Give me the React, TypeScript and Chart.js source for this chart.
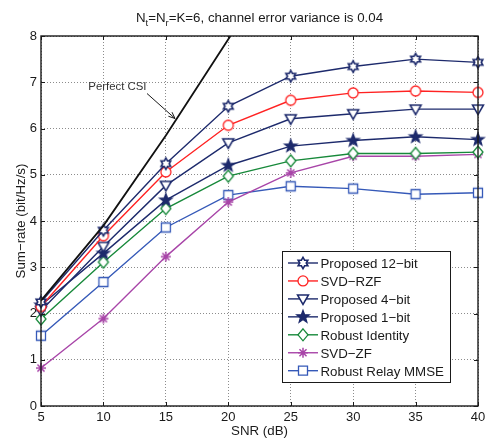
import React, { useEffect, useRef } from 'react';
import { Chart, registerables } from 'chart.js';

Chart.register(...registerables);

const snr = [5, 10, 15, 20, 25, 30, 35, 40];
const perfectSnr = [5, 10, 15, 20, 25];
const perfectCsi = [2.28, 3.9, 5.85, 7.93, 9.98];
const proposed12 = [2.25, 3.8, 5.24, 6.48, 7.13, 7.34, 7.5, 7.43];
const svdRzf = [2.15, 3.68, 5.06, 6.07, 6.61, 6.77, 6.81, 6.78];
const proposed4 = [2.06, 3.45, 4.77, 5.69, 6.21, 6.32, 6.42, 6.42];
const proposed1 = [2.18, 3.3, 4.45, 5.2, 5.62, 5.74, 5.82, 5.76];
const robustIdentity = [1.88, 3.11, 4.27, 4.97, 5.3, 5.46, 5.46, 5.49];
const svdZf = [0.82, 1.89, 3.23, 4.41, 5.04, 5.4, 5.4, 5.44];
const relayMmse = [1.52, 2.68, 3.86, 4.56, 4.75, 4.7, 4.58, 4.61];

const seriesNames = [
  'Proposed 12\u2212bit',
  'SVD\u2212RZF',
  'Proposed 4\u2212bit',
  'Proposed 1\u2212bit',
  'Robust Identity',
  'SVD\u2212ZF',
  'Robust Relay MMSE',
];
const seriesValues = [proposed12, svdRzf, proposed4, proposed1, robustIdentity, svdZf, relayMmse];
const seriesColors = ['#1d2a6c', '#ff2222', '#1d2a6c', '#1d2a6c', '#17893a', '#a845a8', '#3559b8'];
const seriesMarkers = ['hexagram', 'circle', 'triangleDown', 'pentagram', 'diamond', 'asterisk', 'square'];

const titleMain = ['N', '=N', '=K=6, channel error variance is 0.04'];
const titleSubs = ['t', 'r'];
const xLabel = 'SNR (dB)';
const yLabel = 'Sum\u2212rate (bit/Hz/s)';
const annotationText = 'Perfect CSI';

const FONT = "'Liberation Sans', Arial, Helvetica, sans-serif";

function starPath(g: CanvasRenderingContext2D, x: number, y: number, n: number, ro: number, ri: number) {
  g.beginPath();
  for (let i = 0; i < n * 2; i++) {
    const r = i % 2 === 0 ? ro : ri;
    const a = -Math.PI / 2 + (i * Math.PI) / n;
    const px = x + r * Math.cos(a);
    const py = y + r * Math.sin(a);
    if (i === 0) g.moveTo(px, py);
    else g.lineTo(px, py);
  }
  g.closePath();
}

function drawMarker(g: CanvasRenderingContext2D, kind: string, x: number, y: number, color: string) {
  g.save();
  g.lineWidth = 1.3;
  g.strokeStyle = color;
  g.fillStyle = '#ffffff';
  g.setLineDash([]);
  switch (kind) {
    case 'hexagram':
      g.lineWidth = 1.6;
      starPath(g, x, y, 6, 5.6, 5.6 / Math.sqrt(3));
      g.fill();
      g.stroke();
      break;
    case 'circle':
      g.beginPath();
      g.arc(x, y, 5, 0, Math.PI * 2);
      g.fill();
      g.stroke();
      break;
    case 'triangleDown':
      g.lineWidth = 1.5;
      g.beginPath();
      g.moveTo(x - 5.5, y - 4);
      g.lineTo(x + 5.5, y - 4);
      g.lineTo(x, y + 5.5);
      g.closePath();
      g.fill();
      g.stroke();
      break;
    case 'pentagram':
      starPath(g, x, y, 5, 6.5, 2.7);
      g.fillStyle = color;
      g.fill();
      g.stroke();
      break;
    case 'diamond':
      g.beginPath();
      g.moveTo(x, y - 6);
      g.lineTo(x + 5, y);
      g.lineTo(x, y + 6);
      g.lineTo(x - 5, y);
      g.closePath();
      g.fill();
      g.stroke();
      break;
    case 'asterisk': {
      const r = 5;
      const d = r * 0.7071;
      g.lineWidth = 1.5;
      g.beginPath();
      g.moveTo(x - r, y);
      g.lineTo(x + r, y);
      g.moveTo(x, y - r);
      g.lineTo(x, y + r);
      g.moveTo(x - d, y - d);
      g.lineTo(x + d, y + d);
      g.moveTo(x - d, y + d);
      g.lineTo(x + d, y - d);
      g.stroke();
      break;
    }
    case 'square':
      g.beginPath();
      g.rect(x - 4.5, y - 4.5, 9, 9);
      g.fill();
      g.stroke();
      break;
  }
  g.restore();
}

function makeMarker(kind: string, color: string): HTMLCanvasElement {
  const c = document.createElement('canvas');
  c.width = 18;
  c.height = 18;
  const g = c.getContext('2d') as CanvasRenderingContext2D;
  drawMarker(g, kind, 9, 9, color);
  return c;
}

const decorPlugin = {
  id: 'decor',
  afterDraw(chart: any) {
    const { ctx, chartArea } = chart;
    const { left, right, top, bottom } = chartArea;
    const xs = chart.scales.x;
    const ys = chart.scales.y;
    ctx.save();

    // axes box
    ctx.strokeStyle = '#1a1a1a';
    ctx.lineWidth = 1.4;
    ctx.setLineDash([]);
    ctx.strokeRect(left, top, right - left, bottom - top);

    // inward ticks
    ctx.lineWidth = 1;
    ctx.beginPath();
    xs.ticks.forEach((t: any) => {
      const px = Math.round(xs.getPixelForValue(t.value)) + 0.5;
      ctx.moveTo(px, bottom);
      ctx.lineTo(px, bottom - 4);
      ctx.moveTo(px, top);
      ctx.lineTo(px, top + 4);
    });
    ys.ticks.forEach((t: any) => {
      const py = Math.round(ys.getPixelForValue(t.value)) + 0.5;
      ctx.moveTo(left, py);
      ctx.lineTo(left + 4, py);
      ctx.moveTo(right, py);
      ctx.lineTo(right - 4, py);
    });
    ctx.stroke();

    // title with subscripts
    ctx.fillStyle = '#1a1a1a';
    const mainFont = `13.3px ${FONT}`;
    const subFont = `9.5px ${FONT}`;
    ctx.font = mainFont;
    const wMain = titleMain.map((s) => ctx.measureText(s).width);
    ctx.font = subFont;
    const wSub = titleSubs.map((s) => ctx.measureText(s).width);
    const total = wMain.reduce((a, b) => a + b, 0) + wSub.reduce((a, b) => a + b, 0);
    let tx = (left + right) / 2 - total / 2;
    const ty = 21.6;
    ctx.textAlign = 'left';
    ctx.textBaseline = 'alphabetic';
    for (let i = 0; i < titleMain.length; i++) {
      ctx.font = mainFont;
      ctx.fillText(titleMain[i], tx, ty);
      tx += wMain[i];
      if (i < titleSubs.length) {
        ctx.font = subFont;
        ctx.fillText(titleSubs[i], tx, ty + 4.6);
        tx += wSub[i];
      }
    }

    // x label
    ctx.font = mainFont;
    ctx.textAlign = 'center';
    ctx.fillText(xLabel, (left + right) / 2, 435);

    // y label
    ctx.save();
    ctx.translate(25, (top + bottom) / 2);
    ctx.rotate(-Math.PI / 2);
    ctx.fillText(yLabel, 0, 0);
    ctx.restore();

    // annotation
    ctx.font = `11.4px ${FONT}`;
    ctx.fillStyle = '#333333';
    ctx.textAlign = 'left';
    ctx.fillText(annotationText, 88.3, 90.2);
    ctx.strokeStyle = '#1a1a1a';
    ctx.lineWidth = 1;
    const ax0 = 147, ay0 = 93.5, ax1 = 175, ay1 = 118.5;
    ctx.beginPath();
    ctx.moveTo(ax0, ay0);
    ctx.lineTo(ax1, ay1);
    const ang = Math.atan2(ay1 - ay0, ax1 - ax0);
    const hl = 7;
    ctx.moveTo(ax1, ay1);
    ctx.lineTo(ax1 - hl * Math.cos(ang - 0.4), ay1 - hl * Math.sin(ang - 0.4));
    ctx.moveTo(ax1, ay1);
    ctx.lineTo(ax1 - hl * Math.cos(ang + 0.4), ay1 - hl * Math.sin(ang + 0.4));
    ctx.stroke();

    // legend
    const lx = 282, ly = 251, lw = 168, lh = 131;
    ctx.fillStyle = '#ffffff';
    ctx.fillRect(lx, ly, lw, lh);
    ctx.strokeStyle = '#1a1a1a';
    ctx.lineWidth = 1;
    ctx.strokeRect(lx + 0.5, ly + 0.5, lw, lh);
    ctx.font = mainFont;
    ctx.textAlign = 'left';
    ctx.textBaseline = 'alphabetic';
    for (let i = 0; i < seriesNames.length; i++) {
      const cy = 263 + i * 17.95;
      ctx.strokeStyle = seriesColors[i];
      ctx.lineWidth = 1.4;
      ctx.beginPath();
      ctx.moveTo(288, cy);
      ctx.lineTo(318, cy);
      ctx.stroke();
      drawMarker(ctx, seriesMarkers[i], 303, cy, seriesColors[i]);
      ctx.fillStyle = '#1a1a1a';
      ctx.fillText(seriesNames[i], 320.5, cy + 4.8);
    }
    ctx.restore();
  },
};

export default function App() {
  const ref = useRef<HTMLCanvasElement | null>(null);
  useEffect(() => {
    if (!ref.current) return;
    const datasets: any[] = seriesValues.map((vals, i) => ({
      label: seriesNames[i],
      data: snr.map((x, j) => ({ x, y: vals[j] })),
      borderColor: seriesColors[i],
      backgroundColor: seriesColors[i],
      borderWidth: 1.4,
      pointStyle: makeMarker(seriesMarkers[i], seriesColors[i]),
      pointRadius: 5,
      pointHoverRadius: 5,
      tension: 0,
      clip: false,
      order: i + 1,
    }));
    datasets.push({
      label: annotationText,
      data: perfectSnr.map((x, j) => ({ x, y: perfectCsi[j] })),
      borderColor: '#111111',
      borderWidth: 1.8,
      pointRadius: 0,
      tension: 0,
      clip: { left: 5, right: 5, top: 0, bottom: 5 },
      order: 0,
    });
    const chart = new Chart(ref.current, {
      type: 'line',
      data: { datasets },
      options: {
        responsive: false,
        animation: false,
        maintainAspectRatio: false,
        layout: { padding: { left: 0, right: 12, top: 36, bottom: 0 } },
        plugins: {
          legend: { display: false },
          title: { display: false },
          tooltip: { enabled: false },
        },
        scales: {
          x: {
            type: 'linear',
            min: 5,
            max: 40,
            ticks: {
              stepSize: 5,
              color: '#1a1a1a',
              font: { family: FONT, size: 13 },
              padding: 4,
              maxRotation: 0,
            },
            grid: { color: 'rgba(0,0,0,0.45)', lineWidth: 1, drawTicks: false },
            border: { display: false, dash: [1, 2] },
            afterFit: (s: any) => {
              s.height = 35;
            },
          },
          y: {
            min: 0,
            max: 8,
            ticks: {
              stepSize: 1,
              color: '#1a1a1a',
              font: { family: FONT, size: 13 },
              padding: 4,
            },
            grid: { color: 'rgba(0,0,0,0.45)', lineWidth: 1, drawTicks: false },
            border: { display: false, dash: [1, 2] },
            afterFit: (s: any) => {
              s.width = 41;
            },
          },
        },
      },
      plugins: [decorPlugin],
    });
    return () => chart.destroy();
  }, []);
  return (
    <div style={{ position: 'fixed', left: 0, top: 0, width: 490, height: 441, background: '#fff' }}>
      <canvas ref={ref} width={490} height={441} style={{ width: 490, height: 441 }} />
    </div>
  );
}
